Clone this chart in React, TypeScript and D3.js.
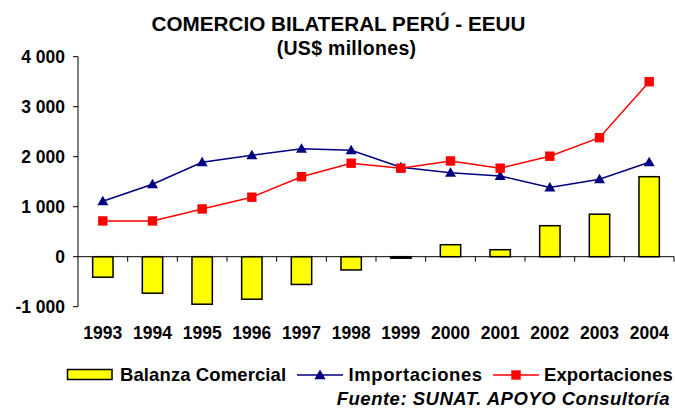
import React from "react";
import * as d3 from "d3";

const years = ["1993","1994","1995","1996","1997","1998","1999","2000","2001","2002","2003","2004"];
const balanza = [-410, -730, -950, -850, -555, -265, -25, 240, 140, 620, 850, 1600];
const importaciones = [1110, 1450, 1890, 2030, 2160, 2130, 1790, 1680, 1615, 1385, 1550, 1890];
const exportaciones = [715, 715, 955, 1190, 1600, 1870, 1770, 1915, 1770, 2010, 2380, 3500];
const yTicks = [-1000, 0, 1000, 2000, 3000, 4000];

const W = 675, H = 414;
const FONT = "'Liberation Sans', Arial, sans-serif";

function fmt(v: number) {
  const s = Math.abs(v).toString();
  const withSpace = s.length > 3 ? s.slice(0, s.length - 3) + " " + s.slice(-3) : s;
  return (v < 0 ? "-" : "") + withSpace;
}

export default function App() {
  const x = d3.scaleBand<string>().domain(years).range([78, 674]);
  const y = d3.scaleLinear().domain([-1000, 4000]).range([306.7, 56.7]);
  const bw = x.bandwidth();
  const cx = (d: string) => (x(d) as number) + bw / 2;
  const barW = bw * 0.41;

  const line = d3.line<number>().x((_, i) => cx(years[i])).y((v) => y(v));

  const tri = (px: number, py: number) => {
    const s = 5.5;
    return `M${px},${py - s} L${px + s},${py + s * 0.75} L${px - s},${py + s * 0.75} Z`;
  };

  return (
    <svg width={W} height={H} style={{ position: "absolute", left: 0, top: 0, background: "#fff" }} fontFamily={FONT}>
      <rect width={W} height={H} fill="#fff" />
      <text x={338.5} y={30.7} textAnchor="middle" fontSize={20.7} fontWeight="bold">COMERCIO BILATERAL PERÚ - EEUU</text>
      <text x={346.5} y={55} textAnchor="middle" fontSize={19.5} fontWeight="bold" letterSpacing={0.3}>(US$ millones)</text>

      {/* bars */}
      {balanza.map((v, i) => (
        <rect key={"b" + i} x={cx(years[i]) - barW / 2} y={Math.min(y(v), y(0))}
          width={barW} height={Math.max(Math.abs(y(v) - y(0)), 1.5)}
          fill="#FFFF00" stroke="#000" strokeWidth={1.5} />
      ))}

      {/* axes */}
      <line x1={78} x2={78} y1={y(4000)} y2={y(-1000)} stroke="#000" strokeWidth={1} />
      {yTicks.map((t) => (
        <g key={"yt" + t}>
          <line x1={73} x2={78} y1={y(t)} y2={y(t)} stroke="#000" />
          <text x={65} y={y(t)} dy="0.35em" textAnchor="end" fontSize={17.5} fontWeight="bold">{fmt(t)}</text>
        </g>
      ))}
      <line x1={78} x2={674} y1={y(0)} y2={y(0)} stroke="#000" strokeWidth={1} />
      {years.map((d) => (
        <line key={"xt" + d} x1={(x(d) as number) + bw} x2={(x(d) as number) + bw} y1={y(0)} y2={y(0) + 5} stroke="#000" />
      ))}
      {years.map((d) => (
        <text key={"xl" + d} x={cx(d)} y={339.3} textAnchor="middle" fontSize={17.5} fontWeight="bold">{d}</text>
      ))}

      {/* lines */}
      <path d={line(importaciones) as string} fill="none" stroke="#000080" strokeWidth={1.5} />
      <path d={line(exportaciones) as string} fill="none" stroke="#FF0000" strokeWidth={1.5} />
      {importaciones.map((v, i) => (
        <path key={"im" + i} d={tri(cx(years[i]), y(v))} fill="#000080" />
      ))}
      {exportaciones.map((v, i) => (
        <rect key={"ex" + i} x={cx(years[i]) - 4.7} y={y(v) - 4.7} width={9.4} height={9.4} fill="#FF0000" />
      ))}

      {/* legend */}
      <rect x={67.5} y={369.5} width={44.5} height={10} fill="#FFFF00" stroke="#000" strokeWidth={1.5} />
      <text x={120} y={380.5} fontSize={18.5} fontWeight="bold" letterSpacing={0.1}>Balanza Comercial</text>
      <line x1={297} x2={343} y1={375} y2={375} stroke="#000080" strokeWidth={1.5} />
      <path d={tri(320, 375)} fill="#000080" />
      <text x={348.5} y={380.5} fontSize={18.5} fontWeight="bold" letterSpacing={0.6}>Importaciones</text>
      <line x1={493} x2={539} y1={375} y2={375} stroke="#FF0000" strokeWidth={1.5} />
      <rect x={516 - 4.7} y={375 - 4.7} width={9.4} height={9.4} fill="#FF0000" />
      <text x={544} y={380.5} fontSize={18.5} fontWeight="bold" letterSpacing={0.1}>Exportaciones</text>

      <text x={670} y={405} textAnchor="end" fontSize={18.5} fontWeight="bold" fontStyle="italic" letterSpacing={0.5}>Fuente: SUNAT. APOYO Consultoría</text>
    </svg>
  );
}
